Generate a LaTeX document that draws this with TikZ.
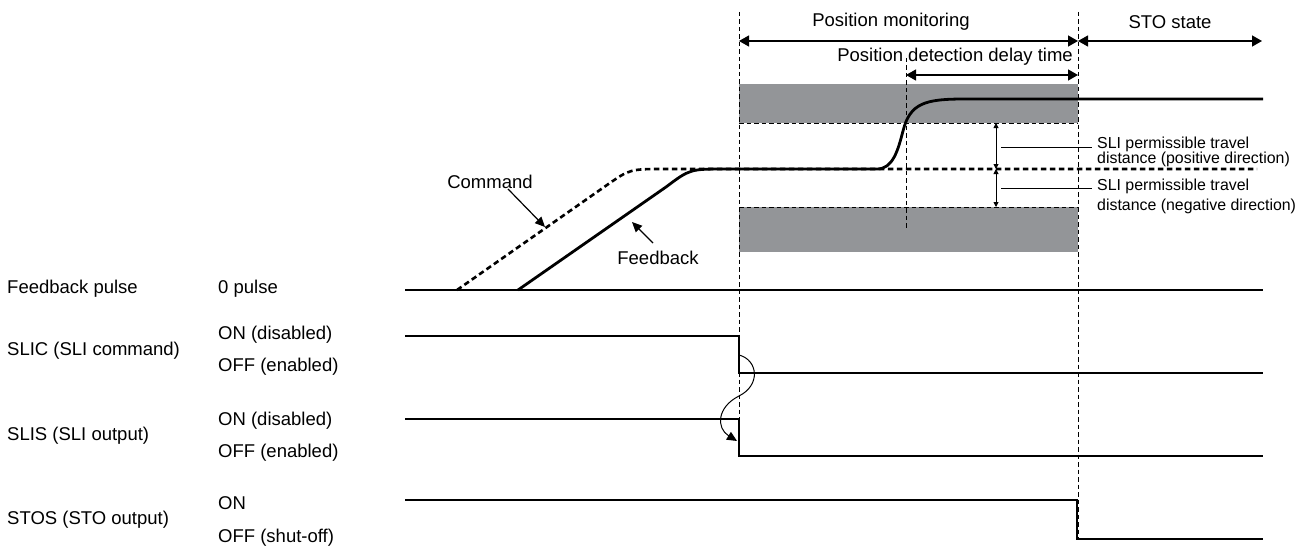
\documentclass[tikz,border=0pt]{standalone}
\usepackage{fontspec}
\setmainfont{Liberation Sans}
\usetikzlibrary{arrows.meta,positioning}
\definecolor{zonegrey}{RGB}{147,149,152}

\begin{document}
\begin{tikzpicture}[
  x=1pt, y=-1pt,
  lbl/.style={inner sep=0pt, font=\fontsize{18.5}{22}\selectfont},
  sml/.style={inner sep=0pt, align=left, font=\fontsize{15.9}{15.7}\selectfont},
  sig/.style={line width=1.3pt},
  thk/.style={line width=2.8pt},
  vdash/.style={line width=1pt, dash pattern=on 4.5pt off 3pt},
  cdash/.style={line width=2.6pt, dash pattern=on 5.5pt off 3.5pt},
  dim/.style={line width=1.3pt,
              {Triangle[length=10pt,width=11pt]}-{Triangle[length=10pt,width=11pt]}},
  dimsm/.style={line width=0.9pt,
              {Triangle[length=5pt,width=5pt]}-{Triangle[length=5pt,width=5pt]}},
  arr/.style={line width=1.2pt, -{Triangle[length=10pt,width=9pt]}}
]
\useasboundingbox (0,0) rectangle (1310,551);

% monitoring zones
\fill[zonegrey] (739,84) rectangle (1078,123);
\fill[zonegrey] (739,207) rectangle (1078,252);
\draw[vdash, line width=0.8pt] (739,123) -- (1078,123) (739,207) -- (1078,207);

% time marks
\coordinate (t0) at (739,12);
\coordinate (t1) at (1078,12);
\coordinate (td) at (906,58);
\draw[vdash] (t0) -- (739,456);
\draw[vdash] (t1) -- (1078,539);
\draw[vdash] (td) -- (906,230);

% periods
\node[lbl] (pm)  at (891,22)  {Position monitoring};
\node[lbl] (sto) at (1170,22) {STO state};
\node[lbl, anchor=east] (pd) at (1073,57) {Position detection delay time};
\draw[dim] (739,41) -- (1078,41);
\draw[dim] (1078,41) -- (1262,41);
\draw[dim] (906,75) -- (1078,75);

% command and feedback
\draw[cdash] (457,290) -- (607,185) .. controls (630,169) .. (665,169) -- (1257,169);
\draw[thk] (518,290) -- (666,187) .. controls (690,169) .. (726,169) -- (877,169)
  .. controls (893,169) and (898,150) .. (903,131)
  .. controls (910,103) and (925,99) .. (965,99) -- (1263,99);

\node[lbl] (cmd) at (490,182) {Command};
\node[lbl] (fb)  at (658,258) {Feedback};
\coordinate (cmdtip) at (545,227);
\coordinate (fbtip)  at (632,222);
\draw[arr] ([shift={(18,0)}]cmd.south) -- (cmdtip);
\draw[arr] ([shift={(-5,-8)}]fb.north) -- (fbtip);

% permissible travel distance
\draw[dimsm] (996,123) -- (996,169);
\draw[dimsm] (996,169) -- (996,207);
\node[sml, anchor=west] (pos) at (1097,152) {SLI permissible travel\\distance (positive direction)};
\node[sml, anchor=west] (neg) at (1097,196) {SLI permissible travel\\[4.3pt]distance (negative direction)};
\draw[line width=0.9pt] (1001,147) -- (1092,147) (1001,188) -- (1092,188);

% signals
\node[lbl, anchor=west] (fp)   at (7,289)   {Feedback pulse};
\node[lbl, anchor=west] (fp0)  at (218,289) {0 pulse};
\node[lbl, anchor=west] (slic) at (7,351)   {SLIC (SLI command)};
\node[lbl, anchor=west] (c1on) at (218,335) {ON (disabled)};
\node[lbl, anchor=west] (c1of) at (218,367) {OFF (enabled)};
\node[lbl, anchor=west] (slis) at (7,436)   {SLIS (SLI output)};
\node[lbl, anchor=west] (s1on) at (218,421) {ON (disabled)};
\node[lbl, anchor=west] (s1of) at (218,453) {OFF (enabled)};
\node[lbl, anchor=west] (stos) at (7,520)   {STOS (STO output)};
\node[lbl, anchor=west] (o1on) at (218,503) {ON};
\node[lbl, anchor=west] (o1of) at (218,538) {OFF (shut-off)};

\draw[sig] (405,290) -- (1263,290);
\draw[sig] (405,336) -- (739,336) -- (739,373) -- (1263,373);
\draw[sig] (405,419) -- (739,419) -- (739,456) -- (1263,456);
\draw[sig] (405,500) -- (1077,500) -- (1077,539) -- (1263,539);

\coordinate (c1) at (739,355);
\coordinate (c2) at (737,441);
\draw[arr, line width=1pt] (c1) .. controls (758,360) and (761,385) .. (739,396)
  .. controls (717,407) and (716,428) .. (c2);
\end{tikzpicture}
\end{document}
